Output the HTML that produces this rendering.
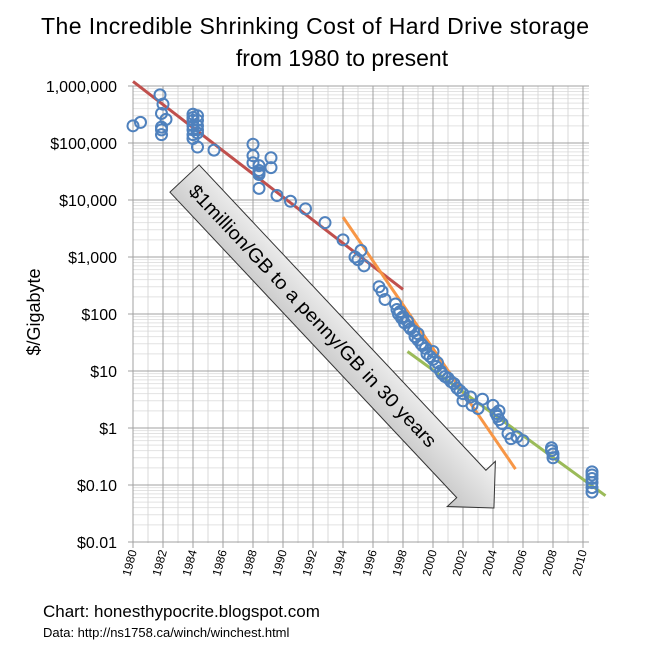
<!DOCTYPE html>
<html><head><meta charset="utf-8">
<style>
body{margin:0;background:#fff;width:653px;height:651px;overflow:hidden;font-family:"Liberation Sans",sans-serif;}
svg{display:block}
</style></head>
<body>
<svg id="chart" width="653" height="651" xmlns="http://www.w3.org/2000/svg">
<defs>
<linearGradient id="ag" x1="0" y1="0" x2="0" y2="1">
<stop offset="0" stop-color="#f4f4f4"/><stop offset="1" stop-color="#c4c4c4"/>
</linearGradient>
</defs>
<text x="315" y="34" font-size="23" text-anchor="middle" fill="#000" textLength="548">The Incredible Shrinking Cost of Hard Drive storage</text>
<text x="342" y="66" font-size="23" text-anchor="middle" fill="#000">from 1980 to present</text>
<g id="grid"></g>
<g id="yticks"></g>
<g id="xticks"></g>
<text transform="translate(40,312) rotate(-90)" font-size="18" text-anchor="middle" fill="#000">$/Gigabyte</text>
<g id="trend"></g>
<g id="points"></g>
<g id="arrow"></g>
<text x="43" y="617" font-size="17" fill="#000">Chart: honesthypocrite.blogspot.com</text>
<text x="43" y="637" font-size="13" fill="#000">Data: http://ns1758.ca/winch/winchest.html</text>
</svg>
<script>
const NS="http://www.w3.org/2000/svg";
const yearTicks=[1980,1982,1984,1986,1988,1990,1992,1994,1996,1998,2000,2002,2004,2006,2008,2010];
const yTickValues=[1000000,100000,10000,1000,100,10,1,0.1,0.01];
const yTickLabels=["1,000,000","$100,000","$10,000","$1,000","$100","$10","$1","$0.10","$0.01"];
const pointYears=[1980,1980.5,1981.8,1982,1981.9,1982.2,1981.9,1981.9,1981.9,
1984,1984,1984,1984,1984,1984,1984,1984.3,1984.3,1984.3,1984.3,1984.3,1984.3,1985.4,
1988,1988,1988,1988.4,1988.4,1988.4,1988.4,1988.4,1989.2,1989.2,
1989.6,1990.5,1991.5,1992.8,1994,1994.8,1995.2,1995,1995.4,1996.4,1996.6,1996.8,
1997.5,1997.6,1997.7,1997.8,1997.9,1998,1998.1,1998.3,1998.4,1998.5,1998.7,1998.8,1999,1999,1999.2,1999.3,1999.5,1999.6,1999.8,2000,2000,2000.2,2000.3,2000.5,2000.6,2000.8,2001,2001.2,2001.4,2001.6,2001.8,2002,2002,2002.5,2002.6,2003,2003.3,
2004,2004.2,2004.3,2004.4,2004.6,2004.4,2005,2005.2,2005.6,2006,
2007.9,2007.9,2008,2008,2010.6,2010.6,2010.6,2010.6,2010.6,2010.6];
const pointValues=[200000,230000,700000,480000,330000,260000,170000,140000,190000,
320000,280000,250000,200000,170000,140000,120000,300000,250000,200000,170000,150000,85000,75000,
95000,60000,45000,40000,33000,30000,16000,28000,55000,37000,
12000,9500,7000,4000,2000,1000,1300,900,700,300,250,180,
150,120,100,110,85,90,70,75,60,55,50,40,35,45,30,28,25,20,18,16,22,12,14,10,9,8,7.5,6.5,6,5,4.5,3,4,3.5,2.5,2.2,3.2,
2.5,1.8,1.6,1.4,1.2,2,0.8,0.65,0.7,0.6,
0.45,0.4,0.35,0.3,0.17,0.15,0.13,0.11,0.09,0.075];
const trendNames=["trend-1980s","trend-1990s","trend-2000s"];
const trendColors=["#c0504d","#f79646","#9bbb59"];
const trendStartYears=[1980,1994,1998.3];
const trendStartValues=[1200000,5000,22];
const trendEndYears=[1998,2005.5,2011.5];
const trendEndValues=[270,0.19,0.065];

const X0=133,PX=15,Y0=86,DEC=57,LEFT=133,RIGHT=589,TOP=86,BOTTOM=543;
function xs(y){return X0+(y-1980)*PX;}
function ys(v){return Y0+(6-Math.log10(v))*DEC;}
function mk(tag,attrs,parent){const e=document.createElementNS(NS,tag);for(const k in attrs)e.setAttribute(k,attrs[k]);parent.appendChild(e);return e;}

const grid=document.getElementById('grid');
for(let d=-2;d<6;d++){for(let m=2;m<10;m++){const y=ys(m*Math.pow(10,d));
const l=mk('line',{x1:LEFT,x2:RIGHT,y1:y,y2:y,stroke:'#e2e2e2','stroke-width':1},grid);

}}
for(let yr=1981;yr<=2010;yr+=2){const x=xs(yr);
const l=mk('line',{x1:x,x2:x,y1:TOP,y2:BOTTOM,stroke:'#d8d8d8','stroke-width':1},grid);

}
yearTicks.forEach(yr=>{const x=xs(yr);
const l=mk('line',{x1:x,x2:x,y1:TOP,y2:BOTTOM+5,stroke:'#a0a0a0','stroke-width':1},grid);

});
const yt=document.getElementById('yticks');
yTickValues.forEach((v,i)=>{const y=ys(v);
const l=mk('line',{x1:LEFT-5,x2:RIGHT,y1:y,y2:y,stroke:'#a0a0a0','stroke-width':1},grid);


const t=mk('text',{x:LEFT-16,y:y+6,'font-size':16,'text-anchor':'end',fill:'#000'},yt);
t.textContent=yTickLabels[i];

});
const xt=document.getElementById('xticks');
yearTicks.forEach(yr=>{const x=xs(yr)+4,y=BOTTOM+8;
const t=mk('text',{x:0,y:0,'font-size':12,'text-anchor':'end',fill:'#000',transform:`translate(${x},${y}) rotate(-75)`},xt);
t.textContent=yr;

});

const tr=document.getElementById('trend');
trendNames.forEach((n,i)=>{
const l=mk('line',{x1:xs(trendStartYears[i]),y1:ys(trendStartValues[i]),x2:xs(trendEndYears[i]),y2:ys(trendEndValues[i]),stroke:trendColors[i],'stroke-width':3},tr);

});

const pts=document.getElementById('points');
pointYears.forEach((yr,i)=>{
const c=mk('circle',{cx:xs(yr),cy:ys(pointValues[i]),r:5.5,fill:'none',stroke:'#4f81bd','stroke-width':2},pts);

});

const ar=document.getElementById('arrow');
const g=mk('g',{transform:'translate(184.5,178.5) rotate(46.8)'},ar);


const L=452,HW=20,HH=33,HL=33;
mk('polygon',{points:`0,${-HW} ${L-HL},${-HW} ${L-HL},${-HH} ${L},0 ${L-HL},${HH} ${L-HL},${HW} 0,${HW}`,fill:'url(#ag)',stroke:'#333','stroke-width':1},g);
const at=mk('text',{x:12,y:7,'font-size':19,fill:'#000',textLength:352,lengthAdjust:'spacingAndGlyphs'},g);
at.textContent='$1million/GB to a penny/GB in 30 years';


</script>
</body></html>
